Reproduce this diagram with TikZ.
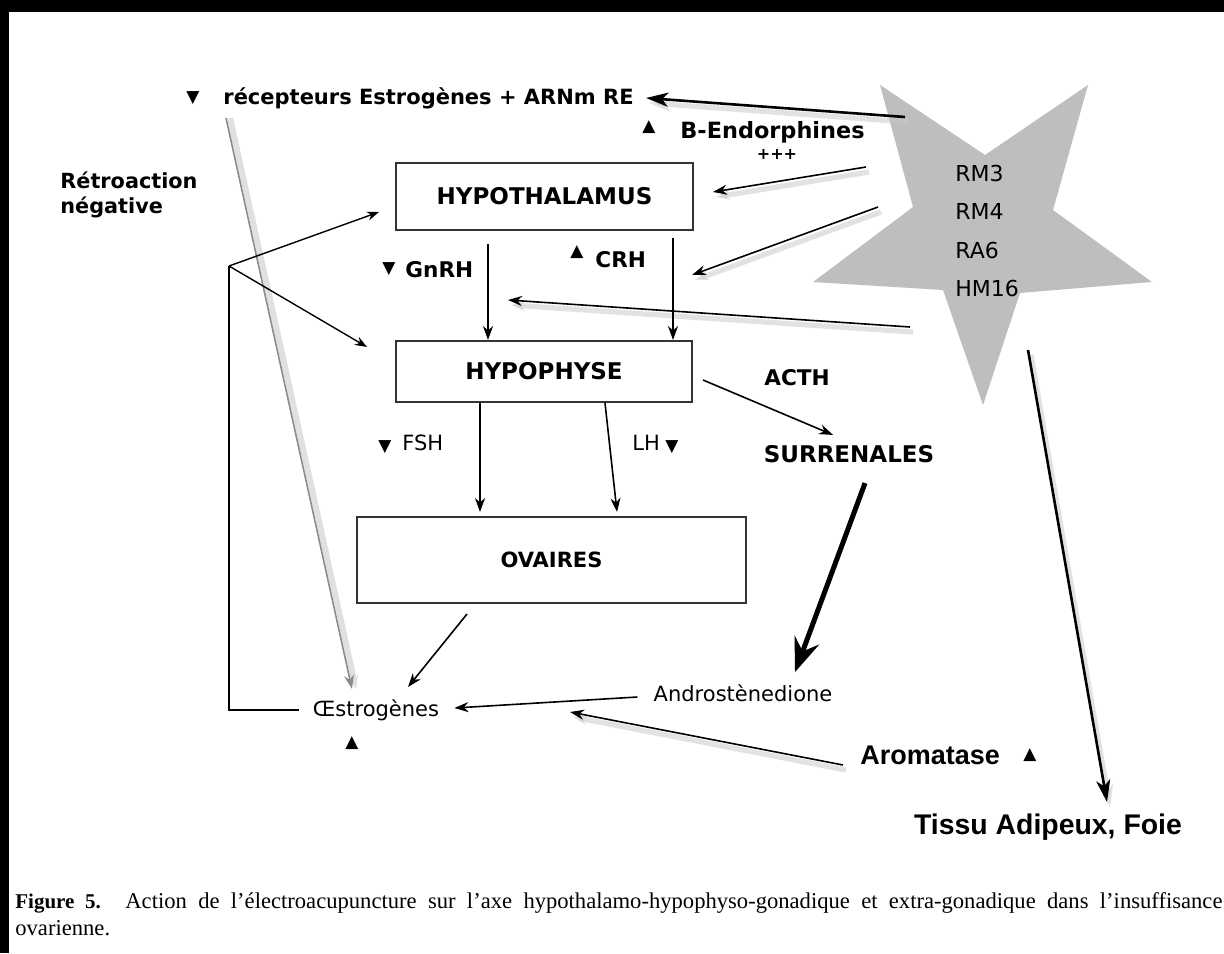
\documentclass[tikz,border=0pt]{standalone}
\usepackage{fontspec}
\setmainfont{Liberation Serif}
\newfontfamily\dejavu{DejaVu Sans}
\newfontfamily\arial{Liberation Sans}
\usepackage{tikz}
\usetikzlibrary{arrows.meta, positioning}
\definecolor{stargray}{RGB}{190,190,190}
\newcommand{\trdown}{{\dejavu\fontsize{8.5}{8.5}\selectfont ▼}}
\newcommand{\trup}{{\dejavu\fontsize{8.5}{8.5}\selectfont ▲}}
\newcommand{\fnt}[1]{\dejavu\bfseries\fontsize{#1}{#1}\selectfont}

\begin{document}
\begin{tikzpicture}[x=0.5pt, y=-0.5pt,
    organ/.style={draw=black!80, line width=1pt, inner sep=0pt, font=\fnt{11.5}},
    hormone/.style={inner sep=0pt, font=\fnt{10.8}},
    plain/.style={inner sep=0pt, font=\dejavu\fontsize{10.5}{12}\selectfont},
    tri/.style={inner sep=0pt},
    flow/.style={line width=0.8pt, -{Stealth[length=7pt,width=5pt]}},
    thickflow/.style={line width=1.3pt, -{Stealth[length=11pt,width=7pt,inset=3pt]}},
    bigflow/.style={line width=2.5pt, -{Stealth[length=17pt,width=13pt,inset=6pt]}},
    fbflow/.style={line width=0.7pt, -{Stealth[length=6pt,width=4.5pt]}},
    shadowed/.style={preaction={draw=black!22, line width=2.6pt, opacity=0.5,
        transform canvas={shift={(1.5pt,-2.5pt)}}}}]
\fill[black] (0,0) rectangle (1224,953);
\fill[white] (9,12) rectangle (1224,953);
\useasboundingbox (0,0) rectangle (1224,953);

% acupuncture points
\fill[stargray] (880,85) -- (985,155) -- (1088,85) -- (1053,210) -- (1152,282)
    -- (1020,293) -- (983,405) -- (943,290) -- (813,282) -- (913,207) -- cycle;
\node[anchor=west, align=left, inner sep=0pt, font=\dejavu\fontsize{11}{19.25}\selectfont]
    (acu) at (955,231) {RM3\\RM4\\RA6\\HM16};
\coordinate (starA) at (905,117);
\coordinate (starB) at (866,167);
\coordinate (starC) at (878,207);
\coordinate (starD) at (910,327);
\coordinate (starE) at (1028,350);

\node[organ, minimum width=148.5pt, minimum height=33.5pt] (hypoth) at (544.5,196.5) {HYPOTHALAMUS};
\node[organ, minimum width=148pt, minimum height=30.5pt] (hypoph) at (544,371.5) {HYPOPHYSE};
\node[organ, minimum width=194.5pt, minimum height=43pt, font=\fnt{10.5}] (ovaires) at (551.5,560) {OVAIRES};

\node[tri] (recepmk) at (193,98) {\trdown};
\node[hormone, anchor=west, font=\fnt{10.5}] (recep) at (223,98) {récepteurs Estrogènes + ARNm RE};
\node[tri] (bendomk) at (649,127) {\trup};
\node[hormone, anchor=west, font=\fnt{11.2}] (bendo) at (680,132) {B-Endorphines};
\node[hormone, font=\fnt{8}] (plus) at (777,154) {+++};
\node[hormone, anchor=west, align=left, font=\dejavu\bfseries\fontsize{10.4}{12.5}\selectfont]
    (retro) at (60,195) {Rétroaction\\négative};
\node[tri] (gnrhmk) at (389,269) {\trdown};
\node[hormone, anchor=west] (gnrh) at (405,270) {GnRH};
\node[tri] (crhmk) at (577,252) {\trup};
\node[hormone, anchor=west] (crh) at (595,260) {CRH};
\node[tri] (fshmk) at (385,447) {\trdown};
\node[plain, anchor=west] (fsh) at (402,443) {FSH};
\node[plain, anchor=west] (lh) at (632,443) {LH};
\node[tri] (lhmk) at (672,447) {\trdown};
\node[hormone] (acth) at (797,378) {ACTH};
\node[hormone, font=\fnt{11.5}] (surr) at (849,454) {SURRENALES};
\node[plain] (andro) at (743,693) {Androstènedione};
\node[plain] (oestro) at (376,710) {Œstrogènes};
\node[tri] (oestromk) at (352,743) {\trup};
\node[hormone, anchor=west, font=\arial\bfseries\fontsize{13.5}{14}\selectfont] (aroma) at (860,755) {Aromatase};
\node[tri] (aromamk) at (1030,755) {\trup};
\node[hormone, font=\arial\bfseries\fontsize{14.2}{15}\selectfont] (tissu) at (1048,827) {Tissu Adipeux, Foie};
\coordinate (crhin) at (692,275);
\coordinate (gnrhin) at (508,300);
\coordinate (tissuin) at (1107,802);
\coordinate (aromain) at (570,712);
\coordinate (grayst) at (226,118);
\coordinate (fb) at (229,266);

\draw[thickflow, shadowed] (starA) -- ([xshift=6pt]recep.east);
\draw[flow, shadowed] (starB) -- ([xshift=9.5pt,yshift=2.25pt]hypoth.east);
\draw[flow, shadowed] (starC) -- (crhin);
\draw[flow, shadowed] (starD) -- (gnrhin);
\draw[thickflow, shadowed] (starE) -- (tissuin);

\draw[flow] ([xshift=-28.25pt,yshift=-6.5pt]hypoth.south) -- ([xshift=-28pt]hypoph.north);
\draw[flow] ([xshift=64.25pt,yshift=-3.5pt]hypoth.south) -- ([xshift=64.5pt]hypoph.north);
\draw[flow] ([xshift=-32pt]hypoph.south) -- ([xshift=-35.75pt,yshift=2pt]ovaires.north);
\draw[flow] ([xshift=30.5pt]hypoph.south) -- ([xshift=32.75pt,yshift=2pt]ovaires.north);
\draw[flow] ([xshift=5pt,yshift=-4.25pt]hypoph.east) -- ([xshift=-8pt,yshift=5pt]surr.north);
\draw[bigflow] ([xshift=8pt,yshift=-10pt]surr.south) -- ([xshift=26pt,yshift=6pt]andro.north);
\draw[flow] ([xshift=-42.25pt,yshift=-5pt]ovaires.south) -- ([xshift=16pt,yshift=6pt]oestro.north);
\draw[flow] ([xshift=-8pt,yshift=-2pt]andro.west) -- ([xshift=7.5pt,yshift=1pt]oestro.east);
\draw[flow, shadowed] ([xshift=-8.5pt,yshift=-5pt]aroma.west) -- (aromain);

\draw[line width=0.8pt, black!45, -{Stealth[length=7pt,width=5pt]},
    preaction={draw=black!12, line width=3pt, transform canvas={shift={(2pt,0pt)}}}]
    (grayst) -- ([xshift=-12pt,yshift=5pt]oestro.north);
\draw[line width=0.8pt] ([xshift=-7pt]oestro.west) -| (fb);
\draw[fbflow] (fb) -- ([xshift=-8pt,yshift=-7.75pt]hypoth.west);
\draw[fbflow] (fb) -- ([xshift=-14pt,yshift=12.25pt]hypoph.west);

\node[anchor=north west, inner sep=0pt] (caption) at (15,892) {\parbox{603.5pt}{%
    \fontsize{11.3}{13.5}\selectfont\hyphenpenalty=10000
    {\fontsize{10.5}{13.5}\selectfont\textbf{Figure 5.}} Action de l’électroacupuncture sur l’axe hypothalamo-hypophyso-gonadique
    et extra-gonadique dans l’insuffisance\linebreak ovarienne.}};
\end{tikzpicture}
\end{document}
